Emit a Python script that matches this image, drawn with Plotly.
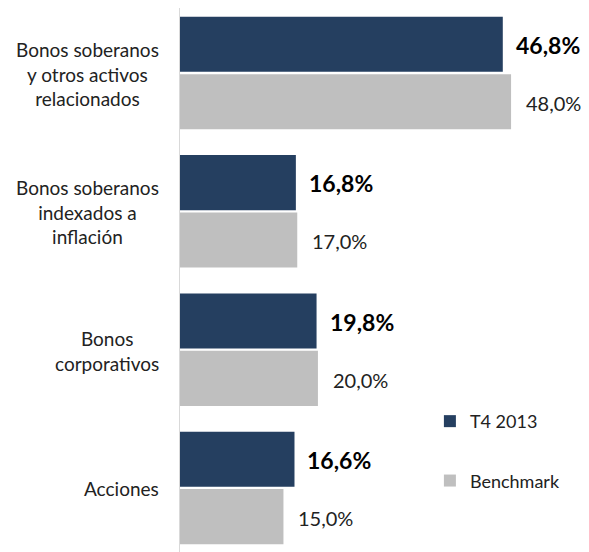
import plotly.graph_objects as go

categories = ["Bonos soberanos<br>y otros activos<br>relacionados",
              "Bonos soberanos<br>indexados a<br>inflación",
              "Bonos<br>corporativos",
              "Acciones"]
t4_2013 = [46.8, 16.8, 19.8, 16.6]
benchmark = [48.0, 17.0, 20.0, 15.0]
series_names = ["T4 2013", "Benchmark"]

NAVY = "#253F60"
GREY = "#BFBFBF"
FONT = "Lato"

# bottom-to-top order for the y axis
cats_bt = categories[::-1]
t4_bt = t4_2013[::-1]
bm_bt = benchmark[::-1]
ypos = list(range(len(cats_bt)))

fig = go.Figure()
fig.add_trace(go.Bar(y=ypos, x=bm_bt, orientation="h", name=series_names[1],
                     legendgroup="b", legendrank=2,
                     marker=dict(color=GREY, line=dict(width=0))))
fig.add_trace(go.Bar(y=ypos, x=t4_bt, orientation="h", name=series_names[0],
                     legendgroup="a", legendrank=1,
                     marker=dict(color=NAVY, line=dict(width=0))))

fmt = lambda v: f"{v:.1f}%".replace(".", ",")

# value labels
for y, v in zip(ypos, t4_bt):
    fig.add_annotation(x=v, y=y, text=f"<b>{fmt(v)}</b>", showarrow=False,
                       xanchor="left", xshift=11, yshift=28,
                       font=dict(size=23, color="#000000", family=FONT))
for y, v in zip(ypos, bm_bt):
    fig.add_annotation(x=v, y=y, text=fmt(v), showarrow=False,
                       xanchor="left", xshift=13, yshift=-30,
                       font=dict(size=20, color="#222222", family=FONT))

# category labels (centred lines, block right-aligned)
for y, c in zip(ypos, cats_bt):
    fig.add_annotation(x=0, xref="paper", y=y, text=c, showarrow=False,
                       xanchor="right", align="center", xshift=-19, yshift=-1,
                       font=dict(size=19, color="#222222", family=FONT))

fig.update_layout(
    width=581, height=544,
    margin=dict(l=172, r=0, t=0, b=0),
    paper_bgcolor="white", plot_bgcolor="white",
    barmode="group", bargap=0.17, bargroupgap=0.04,
    font=dict(family=FONT, size=18, color="#222222"),
    showlegend=True,
    legend=dict(x=0.611, y=0.274, xanchor="left", yanchor="top",
                traceorder="grouped", tracegroupgap=33,
                font=dict(size=18, family=FONT), itemwidth=30,
                bgcolor="rgba(0,0,0,0)"),
    xaxis=dict(range=[0, 59.3], visible=False, fixedrange=True),
    yaxis=dict(range=[-0.463, 3.47], showticklabels=False, showgrid=False,
               zeroline=False, showline=True, linecolor="#D9D9D9", linewidth=1,
               ticks=""),
)

fig.write_html("out.html")
